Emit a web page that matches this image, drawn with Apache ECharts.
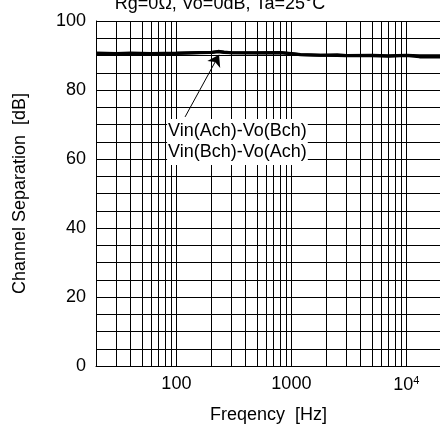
<!DOCTYPE html>
<html>
<head>
<meta charset="utf-8">
<script src="https://cdn.jsdelivr.net/npm/echarts@6/dist/echarts.min.js"></script>
<style>html,body{margin:0;padding:0;background:#fff}#c{width:440px;height:427px}</style>
</head>
<body>
<div id="c"></div>
<script>
// Data
const freqA = [20, 30, 40, 60, 100, 160, 200, 230, 260, 300, 500, 800, 1000, 1200, 1800, 2500, 3000, 5000, 7000, 10000, 13000, 20000];
const sepA  = [90.7, 90.6, 90.7, 90.6, 90.7, 90.9, 90.9, 91.2, 91.0, 90.8, 90.8, 90.9, 90.6, 90.3, 90.1, 90.2, 90.0, 90.1, 89.9, 90.1, 89.9, 89.9];
const freqB = [20, 30, 40, 60, 100, 160, 200, 230, 260, 300, 500, 800, 1000, 1200, 1800, 2500, 3000, 5000, 7000, 10000, 13000, 20000];
const sepB  = [90.6, 90.6, 90.6, 90.6, 90.6, 90.8, 90.9, 91.1, 90.9, 90.8, 90.7, 90.8, 90.5, 90.2, 90.1, 90.0, 89.9, 89.9, 89.8, 90.0, 89.6, 89.6];
const xGridLines = [30, 40, 50, 60, 70, 80, 90, 100, 200, 300, 400, 500, 600, 700, 800, 900, 1000, 2000, 3000, 4000, 5000, 6000, 7000, 8000, 9000, 10000];
const xTickValues = [100, 1000, 10000];
const xTickLabels = ['100', '1000', '10{sup|4}'];
const yTickValues = [0, 20, 40, 60, 80, 100];
const titleText = 'Rg=0\u03A9, Vo=0dB, Ta=25\u00B0C';
const seriesNames = ['Vin(Ach)-Vo(Bch)', 'Vin(Bch)-Vo(Ach)'];
const arrowFrom = [119, 72.2];
const arrowTo = [235, 90.2];
const boxAnchor = [83, 71.6];

const FONT = 'Liberation Sans, Arial, sans-serif';
const chart = echarts.init(document.getElementById('c'), null, {renderer: 'canvas'});

const option = {
  backgroundColor: '#fff',
  animation: false,
  title: {
    text: titleText, left: 'center', top: -5, padding: 0,
    textStyle: {fontFamily: FONT, fontSize: 18, fontWeight: 'normal', color: '#000'}
  },
  grid: {left: 96, top: 21, width: 345, height: 345, containLabel: false, outerBoundsMode: 'none'},
  xAxis: {
    type: 'log', logBase: 10, min: 20, max: 20000,
    name: 'Freqency  [Hz]', nameLocation: 'middle', nameGap: 40,
    nameTextStyle: {fontFamily: FONT, fontSize: 18, color: '#000'},
    axisLine: {show: true, lineStyle: {color: '#000', width: 1}},
    axisTick: {show: false},
    splitLine: {show: false},
    axisLabel: {
      fontFamily: FONT, fontSize: 18, color: '#000', margin: 9,
      formatter: function (v) {
        const r = Math.round(v);
        const i = xTickValues.indexOf(r);
        return i >= 0 ? xTickLabels[i] : '';
      },
      rich: {sup: {fontSize: 11, verticalAlign: 'top', padding: [0, 0, 10, 0], fontFamily: FONT, color: '#000'}}
    }
  },
  yAxis: {
    type: 'value', min: 0, max: 100, interval: 5,
    name: 'Channel Separation  [dB]', nameLocation: 'middle', nameGap: 67, nameMoveOverlap: false,
    nameTextStyle: {fontFamily: FONT, fontSize: 18, color: '#000'},
    axisLine: {show: true, lineStyle: {color: '#000', width: 1}},
    axisTick: {show: false},
    splitLine: {show: true, lineStyle: {color: '#000', width: 1}},
    axisLabel: {
      fontFamily: FONT, fontSize: 18, color: '#000', margin: 10,
      formatter: function (v) { return yTickValues.indexOf(Math.round(v)) >= 0 ? String(Math.round(v)) : ''; }
    }
  },
  series: [
    {
      name: seriesNames[0], type: 'line', showSymbol: false, symbol: 'none',
      data: freqA.map((f, i) => [f, sepA[i]]),
      lineStyle: {color: '#000', width: 3}, z: 5,
      markLine: {
        silent: true, symbol: ['none', 'none'], animation: false,
        label: {show: false},
        lineStyle: {color: '#000', width: 1, type: 'solid'},
        data: xGridLines.map(v => ({xAxis: v}))
      }
    },
    {
      name: seriesNames[1], type: 'line', showSymbol: false, symbol: 'none',
      data: freqB.map((f, i) => [f, sepB[i]]),
      lineStyle: {color: '#000', width: 3}, z: 5,
      markLine: {
        silent: true, animation: false,
        label: {show: false},
        symbolSize: 11,
        lineStyle: {color: '#000', width: 1, type: 'solid'},
        data: [[{coord: arrowFrom, symbol: 'none'}, {coord: arrowTo, symbol: 'arrow'}]]
      }
    }
  ]
};
chart.setOption(option);

const p = chart.convertToPixel({gridIndex: 0}, boxAnchor);
chart.setOption({
  graphic: [{
    type: 'text', left: p[0], top: p[1], z: 100,
    style: {
      text: seriesNames.join('\n'),
      fontFamily: FONT, fontSize: 18, fill: '#000', lineHeight: 21,
      backgroundColor: '#fff', padding: [2, 1, 2, 1]
    }
  }]
});
</script>
</body>
</html>
